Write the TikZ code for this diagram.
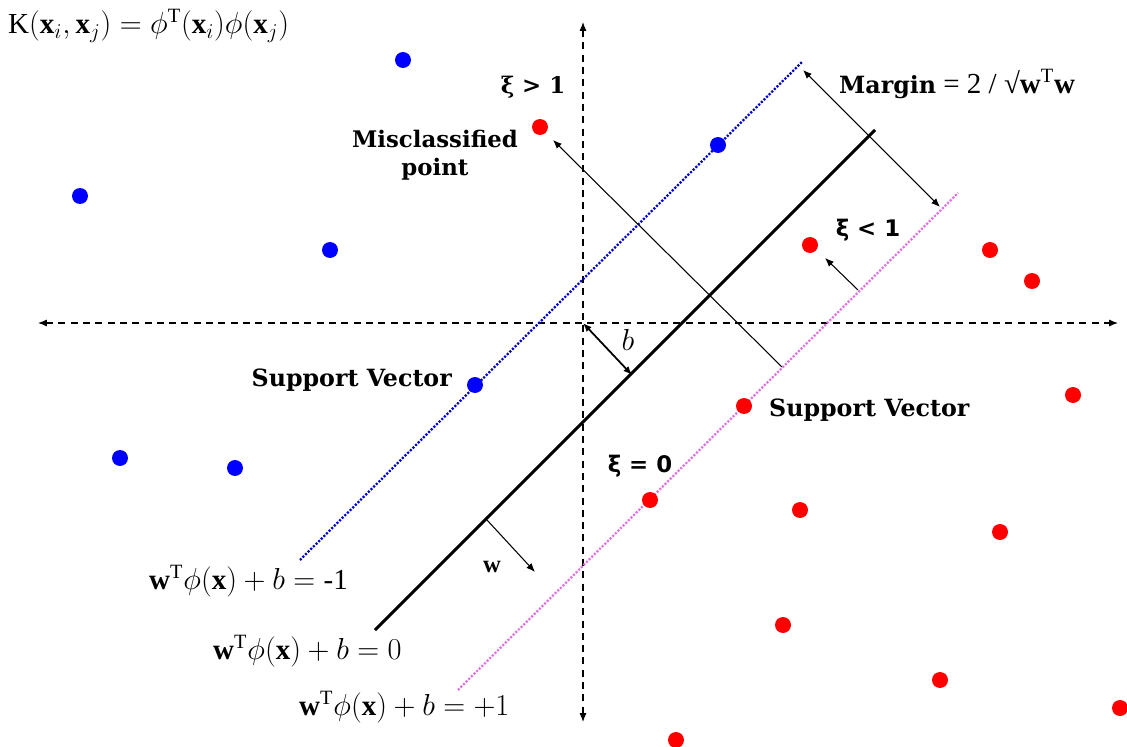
\documentclass[tikz,border=0pt]{standalone}
\usepackage{amsmath}
\usepackage{fontspec}
\setmainfont{Liberation Serif}
\newfontfamily\lblfont{DejaVu Serif}
\newfontfamily\xifont{DejaVu Sans}
\usetikzlibrary{arrows.meta,positioning}

\begin{document}
\begin{tikzpicture}[x=0.02cm,y=-0.02cm,
  bpoint/.style={circle,fill=blue,inner sep=0pt,minimum size=.32cm},
  rpoint/.style={circle,fill=red,inner sep=0pt,minimum size=.32cm},
  axis/.style={line width=.7pt,dash pattern=on 4pt off 3pt,{Latex[length=5pt,width=4pt]}-{Latex[length=5pt,width=4pt]}},
  plane/.style={line width=1.8pt},
  mline/.style={line width=1.3pt,dash pattern=on 1.2pt off .9pt},
  thinarrow/.style={line width=.6pt,-{Latex[length=5pt,width=4pt]}},
  lbl/.style={font=\lblfont\bfseries\fontsize{13.5}{16}\selectfont},
  xilbl/.style={font=\xifont\bfseries\fontsize{13}{15}\selectfont},
  eqlbl/.style={font=\fontsize{16.5}{18}\selectfont}]
\useasboundingbox (0,0) rectangle (1127,747);
% axes
\coordinate (axl) at (38,323);
\coordinate (axr) at (1118,323);
\coordinate (axt) at (583,22);
\coordinate (axb) at (583,722);
\coordinate (o) at (583,323);
\draw[axis] (axl) -- (axr);
\draw[axis] (axt) -- (axb);
% hyperplane and margins
\coordinate (h0) at (375,630);
\coordinate (h1) at (875,130);
\coordinate (m0) at (300,560);
\coordinate (m1) at (802,62);
\coordinate (p0) at (458,690);
\coordinate (p1) at (958,193);
\draw[plane] (h0) -- (h1);
\draw[mline,blue!80!black] (m0) -- (m1);
\draw[mline,violet!45!magenta!55] (p0) -- (p1);
% arrows
\coordinate (mg0) at (803,70);
\coordinate (mg1) at (940,207);
\draw[thinarrow,{Latex[length=5pt,width=4pt]}-{Latex[length=5pt,width=4pt]}] (mg0) -- (mg1);
\coordinate (bh) at (632,375);
\draw[thinarrow,line width=1pt,{Latex[length=5pt,width=4pt]}-{Latex[length=5pt,width=4pt]}] (o) -- (bh);
\coordinate (w0) at (487,520);
\coordinate (w1) at (535,572);
\draw[thinarrow] (w0) -- (w1);
\coordinate (mc0) at (782,367);
\coordinate (mc1) at (553,140);
\draw[thinarrow] (mc0) -- (mc1);
\coordinate (xs0) at (858,290);
\coordinate (xs1) at (825,258);
\draw[thinarrow] (xs0) -- (xs1);
% blue points
\foreach \x/\y [count=\i] in {403/60,80/196,330/250,718/145,475/385,120/458,235/468}
  \node[bpoint] (b\i) at (\x,\y) {};
% red points
\foreach \x/\y [count=\i] in {540/127,810/245,990/250,1032/281,744/406,1073/395,650/500,800/510,1000/532,783/625,940/680,1120/708,676/740}
  \node[rpoint] (r\i) at (\x,\y) {};
% labels
\node[eqlbl,anchor=west] (kern) at (2,26) {$\mathrm{K}(\mathbf{x}_i,\mathbf{x}_j) = \phi^{\mathrm{T}}(\mathbf{x}_i)\phi(\mathbf{x}_j)$};
\node[lbl,font=\lblfont\bfseries\fontsize{13}{14}\selectfont] (xigt) at (533,87) {ξ > 1};
\node[lbl,font=\lblfont\bfseries\fontsize{13}{16}\selectfont,align=center] (miscl) at (435,155) {Misclassified\\point};
\node[eqlbl,anchor=west] (marg) at (833,84) {{\lblfont\bfseries\fontsize{13.5}{16}\selectfont Margin} = 2 / √\textbf{w}\textsuperscript{T}\textbf{w}};
\node[xilbl] (xilt) at (868,230) {ξ < 1};
\node[eqlbl] (blbl) at (628,340) {$b$};
\node[lbl,anchor=east] (svl) at (458,380) {Support Vector};
\node[lbl,anchor=west] (svr) at (763,410) {Support Vector};
\node[xilbl] (xieq) at (640,466) {ξ = 0};
\node[eqlbl,font=\fontsize{14}{16}\selectfont] (wlbl) at (492,567) {$\mathbf{w}$};
\node[eqlbl,anchor=west] (eqm) at (143,581) {$\mathbf{w}^{\mathrm{T}}\phi(\mathbf{x}) + b = \text{-1}$};
\node[eqlbl,anchor=west] (eqz) at (207,651) {$\mathbf{w}^{\mathrm{T}}\phi(\mathbf{x}) + b = 0$};
\node[eqlbl,anchor=west] (eqp) at (293,707) {$\mathbf{w}^{\mathrm{T}}\phi(\mathbf{x}) + b = +1$};
\end{tikzpicture}
\end{document}
